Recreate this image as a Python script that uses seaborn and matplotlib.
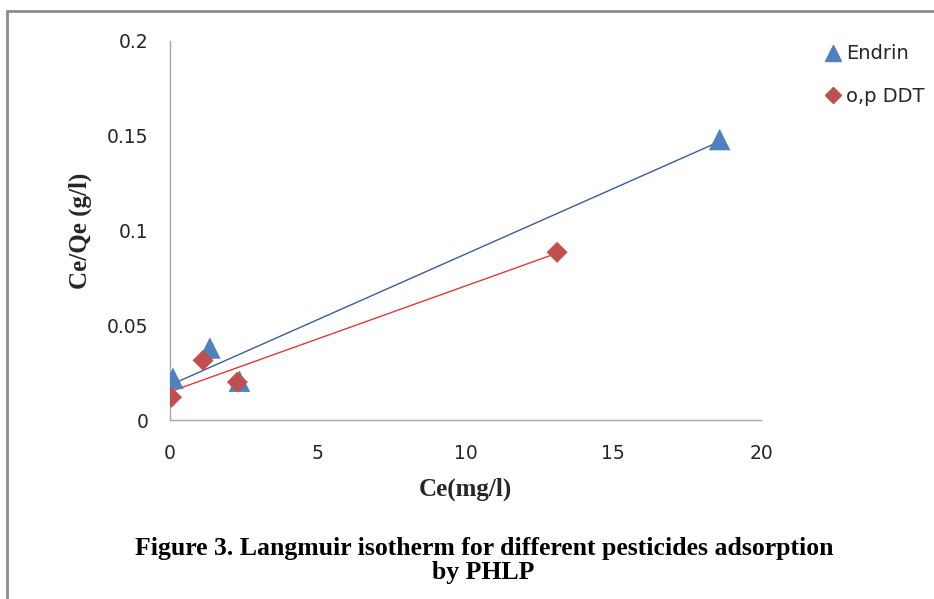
import pandas as pd
import matplotlib.pyplot as plt
import seaborn as sns
from matplotlib.lines import Line2D

# values
endrin_ce = [0.1, 1.35, 2.35, 18.6]
endrin_ratio = [0.022, 0.038, 0.0205, 0.148]
ddt_ce = [0.05, 1.12, 2.28, 13.1]
ddt_ratio = [0.012, 0.0315, 0.020, 0.0885]
series_names = ["Endrin", "o,p DDT"]
x_ticks = [0, 5, 10, 15, 20]
y_ticks = [0, 0.05, 0.1, 0.15, 0.2]
y_tick_labels = ["0", "0.05", "0.1", "0.15", "0.2"]

df = pd.concat([
    pd.DataFrame({"Ce": endrin_ce, "CeQe": endrin_ratio, "pesticide": series_names[0]}),
    pd.DataFrame({"Ce": ddt_ce, "CeQe": ddt_ratio, "pesticide": series_names[1]}),
])

sns.set_style("white")
plt.rcParams["font.family"] = ["DejaVu Sans"]

marker_col = {"Endrin": "#4F81BD", "o,p DDT": "#C0504D"}
line_col = {"Endrin": "#3C5D9A", "o,p DDT": "#E0393B"}
marker_shape = {"Endrin": "^", "o,p DDT": "D"}
marker_size = {"Endrin": 240, "o,p DDT": 115}

fig = plt.figure(figsize=(9.34, 5.99), dpi=100)
ax = fig.add_axes([0.182, 0.2988, 0.6328, 0.6328])

# fitted trend lines first, points on top
for name in series_names:
    sub = df[df["pesticide"] == name]
    sns.regplot(data=sub, x="Ce", y="CeQe", ax=ax, scatter=False, ci=None,
                truncate=True, line_kws={"color": line_col[name], "lw": 1.0})

for name in series_names:
    sub = df[df["pesticide"] == name]
    sns.scatterplot(data=sub, x="Ce", y="CeQe", marker=marker_shape[name],
                    color=marker_col[name], s=marker_size[name],
                    edgecolor="none", ax=ax, legend=False, zorder=3)

ax.set_xlim(0, 20)
ax.set_ylim(0, 0.2)
ax.set_xticks(x_ticks)
ax.set_xticklabels([str(t) for t in x_ticks])
ax.set_yticks(y_ticks)
ax.set_yticklabels(y_tick_labels)
ax.tick_params(axis="both", direction="out", length=6.5, width=1, color="#A6A6A6",
               labelsize=13.5, labelcolor="#262626")
ax.tick_params(axis="y", pad=9)
ax.tick_params(axis="x", pad=10.5)
for side in ["top", "right"]:
    ax.spines[side].set_visible(False)
for side in ["left", "bottom"]:
    ax.spines[side].set_color("#A6A6A6")
    ax.spines[side].set_linewidth(1)

ax.set_xlabel("Ce(mg/l)", family="Liberation Serif", fontweight="bold", fontsize=18, labelpad=11)
ax.set_ylabel("Ce/Qe (g/l)", family="Liberation Serif", fontweight="bold", fontsize=18, labelpad=11)

handles = [
    Line2D([], [], marker="^", ls="none", color=marker_col["Endrin"], markersize=12),
    Line2D([], [], marker="D", ls="none", color=marker_col["o,p DDT"], markersize=8),
]
fig.legend(handles, series_names, loc="upper left", bbox_to_anchor=(0.863, 0.955),
           frameon=False, fontsize=14, handletextpad=0.15, labelspacing=1.2,
           handlelength=1.0)

caption_font = dict(ha="center", va="center", family="Liberation Serif",
                    fontweight="bold", fontsize=18.5, color="black")
fig.text(0.519, 1 - 548 / 599, "Figure 3. Langmuir isotherm for different pesticides adsorption",
         **caption_font)
fig.text(0.517, 1 - 573 / 599, "by PHLP", **caption_font)

# grey frame (left and top edges visible in the original)
fig.add_artist(Line2D([0.0075, 0.0075], [0.0, 0.982], color="#8C8C8C", lw=2,
                      transform=fig.transFigure))
fig.add_artist(Line2D([0.0075, 1.0], [0.982, 0.982], color="#8C8C8C", lw=2,
                      transform=fig.transFigure))

fig.savefig("out.png", dpi=100)
